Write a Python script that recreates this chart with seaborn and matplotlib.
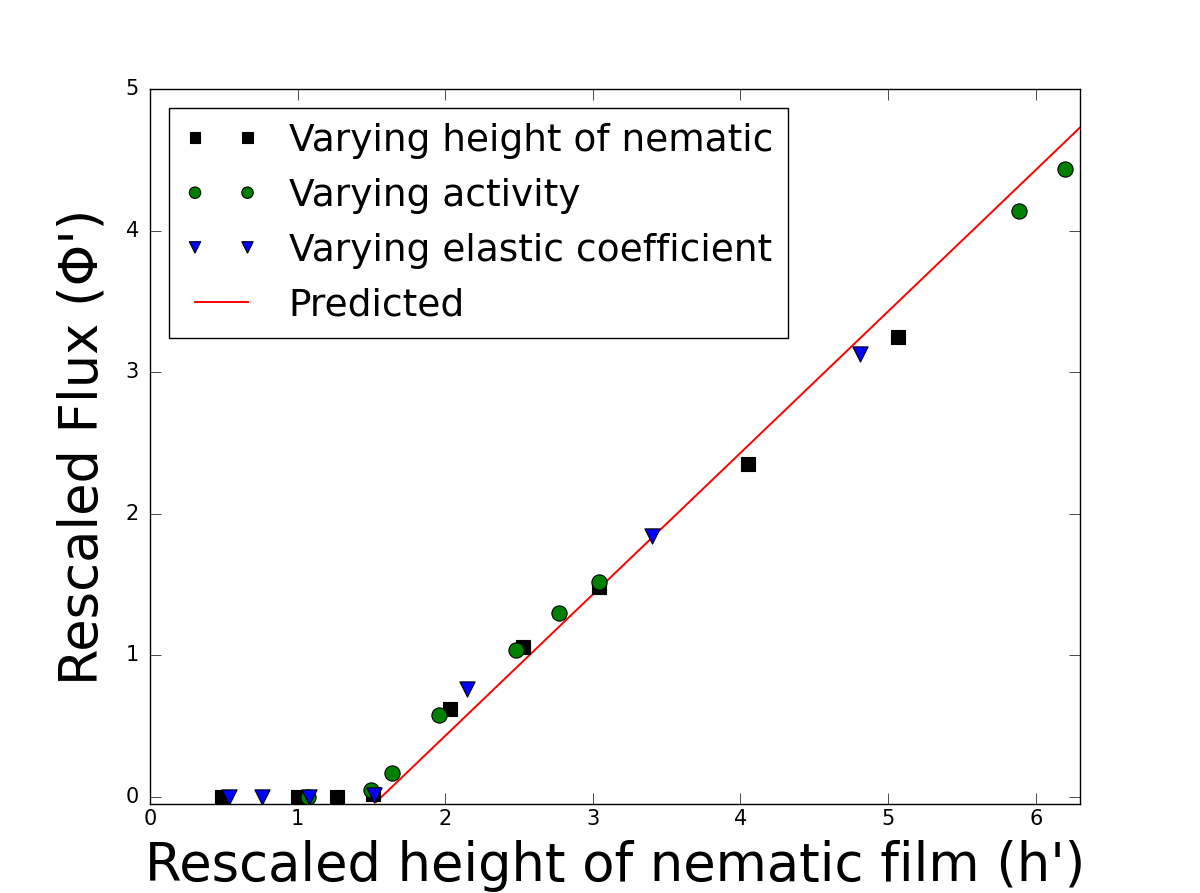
import matplotlib
matplotlib.use("Agg")
import matplotlib.pyplot as plt
import seaborn as sns

# ======================================================
# Data
# ======================================================

height_x = [0.49, 1.00, 1.27, 1.51, 2.03, 2.53, 3.04, 4.05, 5.07]
height_y = [0.00, 0.00, 0.00, 0.02, 0.62, 1.06, 1.48, 2.35, 3.25]

activity_x = [1.07, 1.50, 1.64, 1.96, 2.48, 2.77, 3.04, 5.89, 6.20]
activity_y = [0.00, 0.05, 0.17, 0.58, 1.04, 1.30, 1.52, 4.14, 4.44]

elastic_x = [0.535, 0.76, 1.08, 1.52, 2.15, 3.40, 4.81]
elastic_y = [0.00, 0.00, 0.00, 0.01, 0.76, 1.84, 3.13]

pred_x = [1.53, 6.30]
pred_y = [-0.04, 4.73]

labels = ["Varying height of nematic", "Varying activity",
          "Varying elastic coefficient", "Predicted"]

# ======================================================
# Style
# ======================================================

plt.style.use("classic")
plt.rcParams["font.family"] = ["DejaVu Sans"]
plt.rcParams["figure.facecolor"] = "white"
plt.rcParams["savefig.facecolor"] = "white"

fig, ax = plt.subplots(figsize=(12, 8.93), dpi=100)
fig.subplots_adjust(left=0.125, right=0.9, bottom=0.1, top=0.9)

# ======================================================
# Plot
# ======================================================

sns.scatterplot(x=height_x, y=height_y, marker="s", s=110, color="black",
                edgecolor="black", linewidth=0.8, label=labels[0], ax=ax, zorder=3)
sns.scatterplot(x=activity_x, y=activity_y, marker="o", s=120, color="green",
                edgecolor="black", linewidth=0.8, label=labels[1], ax=ax, zorder=3)
sns.scatterplot(x=elastic_x, y=elastic_y, marker="v", s=120, color="blue",
                edgecolor="black", linewidth=0.8, label=labels[2], ax=ax, zorder=3)
sns.lineplot(x=pred_x, y=pred_y, color="red", linewidth=1.4,
             label=labels[3], ax=ax, zorder=2)

ax.set_xlim(0, 6.3)
ax.set_ylim(-0.05, 5)
ax.set_xticks(range(0, 7))
ax.set_yticks(range(0, 6))
ax.tick_params(labelsize=15, direction="in", length=8, top=True, right=True)
ax.tick_params(axis="y", pad=8)

ax.set_xlabel("Rescaled height of nematic film (h')", fontsize=38, labelpad=8)
ax.set_ylabel("Rescaled Flux (Φ')", fontsize=38, labelpad=12)

ax.legend(loc="upper left", scatterpoints=2, scatteryoffsets=[0.5],
          markerscale=0.75, fontsize=27, frameon=True, fancybox=False,
          edgecolor="black", borderaxespad=0.5)

fig.savefig("out.png", dpi=100)
